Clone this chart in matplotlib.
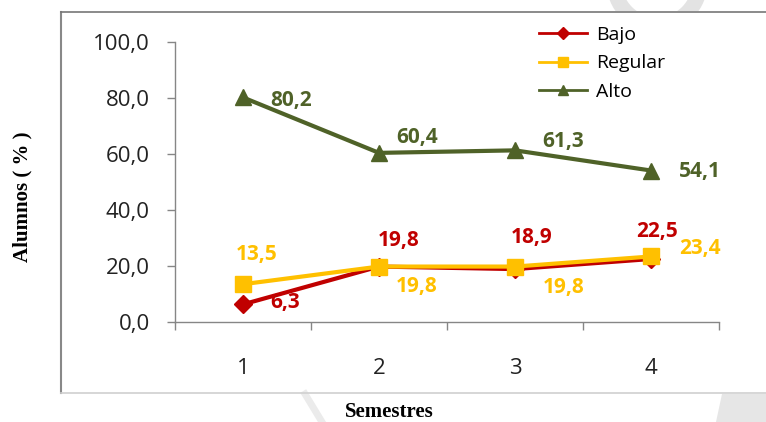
import numpy as np
import matplotlib
matplotlib.use("Agg")
import matplotlib.pyplot as plt
from matplotlib.lines import Line2D
from matplotlib.patches import Ellipse, Polygon, Rectangle

semestres = [1, 2, 3, 4]
bajo = [6.3, 19.8, 18.9, 22.5]
regular = [13.5, 19.8, 19.8, 23.4]
alto = [80.2, 60.4, 61.3, 54.1]
yticks = [0, 20, 40, 60, 80, 100]

# label offsets in pixels (dx, dy) from each point
bajo_off = [(42, 2), (20, 26), (17, 32), (6, 27)]
regular_off = [(14, 30), (38, -20), (49, -21), (49, 8)]
alto_off = [(48, -3), (38, 15), (48, 9), (49, -1)]

c_bajo = "#C00000"
c_regular = "#FFC000"
c_alto = "#4F6228"

W, H = 766, 422
fig = plt.figure(figsize=(W / 100, H / 100), dpi=100)
plt.rcParams['font.family'] = ['Open Sans', 'DejaVu Sans']


def fx(x):
    return x / W


def fy(y):
    return 1 - y / H


ax = fig.add_axes([fx(175), fy(322), fx(719) - fx(175), fy(42) - fy(322)])

ax.plot(semestres, alto, color=c_alto, lw=3, marker="^", ms=12, label="Alto", zorder=3)
ax.plot(semestres, bajo, color=c_bajo, lw=3, marker="D", ms=9, label="Bajo", zorder=3)
ax.plot(semestres, regular, color=c_regular, lw=3, marker="s", ms=12, label="Regular", zorder=4)


def label_series(vals, offs, color):
    for x, v, (dx, dy) in zip(semestres, vals, offs):
        ax.annotate(f"{v:.1f}".replace(".", ","), (x, v), xytext=(dx, dy),
                    textcoords="offset pixels", ha="center", va="center",
                    fontsize=15, fontweight="bold", color=color, zorder=5)


label_series(alto, alto_off, c_alto)
label_series(bajo, bajo_off, c_bajo)
label_series(regular, regular_off, c_regular)

ax.set_xlim(0.5, 4.5)
ax.set_ylim(0, 100)
ax.set_yticks(yticks)
ax.set_yticklabels([f"{t:.1f}".replace(".", ",") for t in yticks])
ax.set_xticks(semestres)
ax.set_xticks([0.5, 1.5, 2.5, 3.5, 4.5], minor=True)
ax.tick_params(axis="x", which="major", length=0, pad=26, labelsize=16, labelcolor="#222222")
ax.tick_params(axis="x", which="minor", length=6, color="#868686", width=1)
ax.tick_params(axis="y", length=6, color="#868686", width=1, pad=12,
               labelsize=16, labelcolor="#222222")
for s in ["top", "right"]:
    ax.spines[s].set_visible(False)
for s in ["left", "bottom"]:
    ax.spines[s].set_color("#868686")
    ax.spines[s].set_linewidth(1)

handles = [
    Line2D([], [], color=c_bajo, lw=2, marker="D", ms=6),
    Line2D([], [], color=c_regular, lw=2, marker="s", ms=7),
    Line2D([], [], color=c_alto, lw=2, marker="^", ms=7),
]
fig.legend(handles, ["Bajo", "Regular", "Alto"], loc="upper left",
           bbox_to_anchor=(fx(531), fy(18)), frameon=False, fontsize=14,
           handlelength=2.5, handletextpad=0.45, labelspacing=0.55, borderaxespad=0)

fig.text(fx(22), fy(197), "Alumnos ( % )", rotation=90, ha="center", va="center",
         family="Liberation Serif", fontweight="bold", fontsize=15)
fig.text(fx(389), fy(412), "Semestres", ha="center", va="center",
         family="Liberation Serif", fontweight="bold", fontsize=15)

# outer frame
fig.add_artist(Line2D([fx(61), fx(61)], [fy(12), fy(393)], color="#888888", lw=1.5))
fig.add_artist(Line2D([fx(61), fx(766)], [fy(12), fy(12)], color="#777777", lw=1.2))
fig.add_artist(Line2D([fx(61), fx(766)], [fy(393), fy(393)], color="#d0d0d0", lw=1.2))

# faint background shapes
ring = Ellipse((fx(657), fy(-18)), 86 / W, 86 / H, transform=fig.transFigure,
               fill=False, ec="#e3e3e3", lw=11, zorder=0)
fig.add_artist(ring)
ring.set_clip_path(Rectangle((0, fy(11)), 1, 11 / H, transform=fig.transFigure))
fig.add_artist(Polygon([[fx(722), fy(394)], [fx(766), fy(394)], [fx(766), fy(422)], [fx(716), fy(422)]],
                       closed=True, transform=fig.transFigure, fc="#e6e6e6", ec="none", zorder=0))
fig.add_artist(Line2D([fx(305), fx(322)], [fy(394), fy(422)], color="#ebebeb", lw=5, zorder=0))

fig.savefig("out.png", dpi=100)
